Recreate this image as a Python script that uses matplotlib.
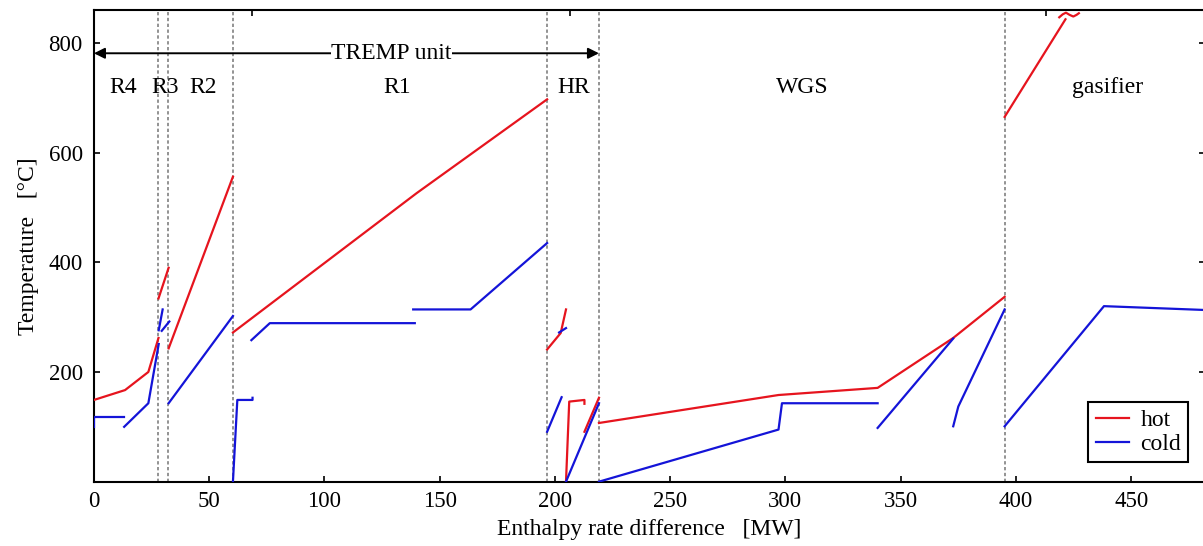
import matplotlib
matplotlib.use('Agg')
import matplotlib.pyplot as plt

plt.rcParams['font.family'] = ['Liberation Serif', 'DejaVu Serif']

# hot composite curve segments (MW, degC)
hot_x = [[0, 13.5, 23.6, 28.0],
         [28.0, 32.4],
         [32.4, 60.3],
         [60.3, 140, 196.6],
         [196.6, 202.5, 204.8],
         [204.8, 206.2, 212.8, 212.8],
         [212.8, 219.1],
         [219.1, 297, 340, 372.8, 395.1],
         [395.1, 421.5],
         [418.8, 420.3, 421.7, 423.3, 424.9, 426.3, 427.3]]
hot_y = [[149, 167, 200, 262],
         [334, 390],
         [243, 556],
         [272, 526, 697],
         [241, 271, 314],
         [0, 146, 149, 142],
         [91, 153],
         [107, 158, 171, 262, 337],
         [665, 843],
         [846.6, 852, 855, 851, 848, 851, 854]]

# cold composite curve segments
cold_x = [[0, 0, 13.1],
          [13.1, 23.6, 28.1],
          [28.1, 29.8],
          [29.4, 32.7],
          [32.4, 60.3],
          [60.3, 62.2, 68.8, 68.8],
          [68.3, 76.3, 139.2],
          [138.5, 163.4, 196.6],
          [201.8, 204.8],
          [196.6, 202.9],
          [204.8, 219.1],
          [219.1, 297, 298.5, 340],
          [340, 372.8],
          [372.8, 375, 395.1],
          [395.1, 438.2, 482]]
cold_y = [[100, 118.5, 118.5],
          [100, 143, 251],
          [276, 314],
          [275, 292],
          [143, 302],
          [0, 149, 149, 153],
          [258, 289, 289],
          [314, 314, 435],
          [272, 280],
          [91, 154],
          [0, 143],
          [0, 95, 143, 143],
          [98, 261],
          [101, 137, 314],
          [101, 320, 313]]

# unit boundaries and labels
bounds = [27.9, 32.3, 60.3, 196.6, 219.1, 395.1]
unit_names = ['R4', 'R3', 'R2', 'R1', 'HR', 'WGS', 'gasifier']
unit_pos = [12.7, 30.8, 47.5, 131.5, 208, 307.5, 439.6]

RED = '#e6141e'
BLUE = '#1414d8'

fig = plt.figure(figsize=(12.03, 5.46), dpi=100)
ax = fig.add_axes([0.0781, 0.1178, 0.9235, 0.864])

for b in bounds:
    ax.axvline(b, color='#808080', ls=(0, (2, 1.5)), lw=1.2, zorder=1)

for i in range(len(hot_x)):
    ax.plot(hot_x[i], hot_y[i], color=RED, lw=1.6, label='hot' if i == 0 else None, zorder=3)
for i in range(len(cold_x)):
    ax.plot(cold_x[i], cold_y[i], color=BLUE, lw=1.6, label='cold' if i == 0 else None, zorder=3)

# TREMP unit arrow
ax.annotate('', xy=(0, 781), xytext=(219.1, 781),
            arrowprops=dict(arrowstyle='<|-|>', color='k', lw=1.4,
                            shrinkA=0, shrinkB=0, mutation_scale=16))
ax.text(129, 781, 'TREMP unit', ha='center', va='center', fontsize=17,
        bbox=dict(facecolor='white', edgecolor='none', pad=0.3), zorder=4)

for name, xp in zip(unit_names, unit_pos):
    ax.text(xp, 718, name, ha='center', va='center', fontsize=17)

ax.set_xlim(0, 482)
ax.set_ylim(0, 860)
ax.set_xticks([0, 50, 100, 150, 200, 250, 300, 350, 400, 450])
ax.set_yticks([200, 400, 600, 800])
ax.tick_params(direction='in', labelsize=16.5, length=4, width=1.2, right=True)
ax.tick_params(axis='y', pad=8)
ax.tick_params(axis='x', pad=7)

top = ax.secondary_xaxis('top')
top.set_xticks([68.4, 206.5, 413])
top.tick_params(direction='in', length=4, width=1.2, labeltop=False)
top.spines['top'].set_visible(False)

for s in ax.spines.values():
    s.set_linewidth(1.5)

ax.set_xlabel('Enthalpy rate difference   [MW]', fontsize=17, labelpad=5)
ax.set_ylabel('Temperature   [°C]', fontsize=17, labelpad=7)

leg = ax.legend(loc='lower right', bbox_to_anchor=(0.985, 0.042), borderaxespad=0,
                fontsize=17, fancybox=False, edgecolor='black', handlelength=1.4,
                handletextpad=0.5, borderpad=0.3, labelspacing=0.1, framealpha=1)
leg.get_frame().set_linewidth(1.5)

fig.savefig('out.png', dpi=100)
